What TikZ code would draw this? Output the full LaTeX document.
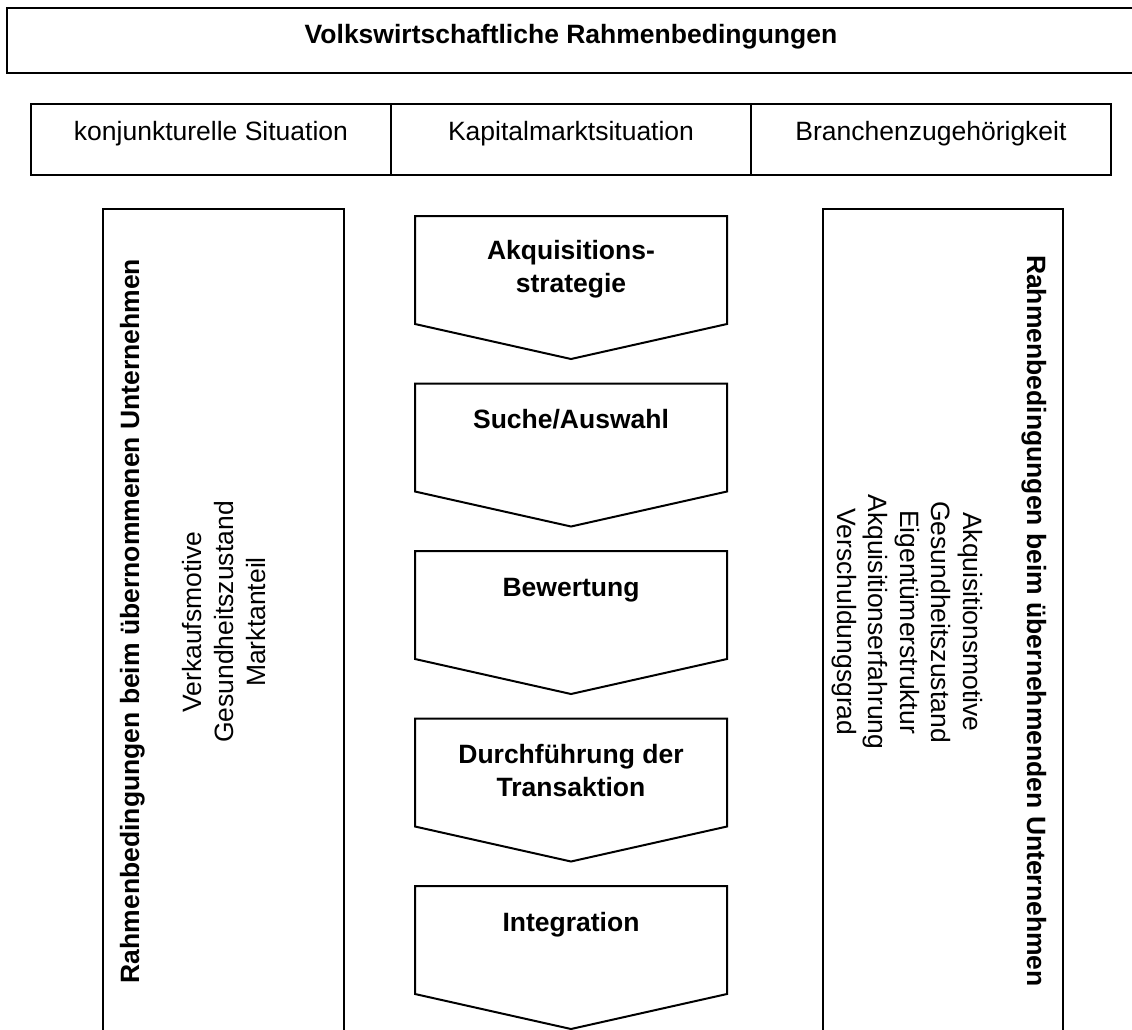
\documentclass[tikz,border=0pt]{standalone}
\usepackage{fontspec}
\setmainfont{Liberation Sans}
\begin{document}
\begin{tikzpicture}[x=0.5pt,y=-0.5pt,line width=1pt,
  txt/.style={inner sep=0pt,anchor=base,align=center,font=\fontsize{13.25}{15.8}\selectfont},
  btxt/.style={inner sep=0pt,anchor=base,align=center,font=\fontsize{13.25}{16.3}\selectfont\bfseries},
  frame/.style={draw=black,line width=1.1pt},
  stepshape/.style={draw=black,line width=1pt,line join=miter}]
\useasboundingbox (0,0) rectangle (1132,1030);
% top box (open at the right)
\draw[frame] (1132,8) -- (7,8) -- (7,73) -- (1132,73);
\node[btxt] (vr) at (571,43) {Volkswirtschaftliche Rahmenbedingungen};
% row of three
\draw[frame] (31,104) rectangle (1111,175);
\draw[frame] (391,104) -- (391,175);
\draw[frame] (751,104) -- (751,175);
\node[txt] (k1) at (211,140) {konjunkturelle Situation};
\node[txt] (k2) at (571,140) {Kapitalmarktsituation};
\node[txt] (k3) at (931,140) {Branchenzugehörigkeit};
% side boxes (open at the bottom)
\draw[frame] (103,1040) -- (103,209) -- (344,209) -- (344,1040);
\draw[frame] (823,1040) -- (823,209) -- (1063,209) -- (1063,1040);
\node[btxt,rotate=90] (lt) at (139,621) {Rahmenbedingungen beim übernommenen Unternehmen};
\node[txt,rotate=90] (lb) at (265,622) {Verkaufsmotive\\Gesundheitszustand\\Marktanteil};
\node[btxt,rotate=-90] (rt) at (1027,621) {Rahmenbedingungen beim übernehmenden Unternehmen};
\node[txt,rotate=-90] (rb) at (837,622) {Akquisitionsmotive\\Gesundheitszustand\\Eigentümerstruktur\\Akquisitionserfahrung\\Verschuldungsgrad};
% process steps
\foreach \t in {216,383.5,551,718.5,886}{
  \draw[stepshape] (415,\t) -- (727,\t) -- (727,\t+108) -- (571,\t+143) -- (415,\t+108) -- cycle;
}
\node[btxt] (a1) at (571,292) {Akquisitions-\\strategie};
\node[btxt] (a2) at (571,428) {Suche/Auswahl};
\node[btxt] (a3) at (571,596) {Bewertung};
\node[btxt] (a4) at (571,796) {Durchführung der\\Transaktion};
\node[btxt] (a5) at (571,931) {Integration};
\end{tikzpicture}
\end{document}
